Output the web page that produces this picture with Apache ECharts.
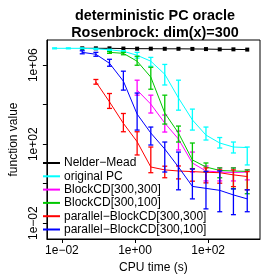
<!DOCTYPE html>
<html><head><meta charset="utf-8">
<script src="https://cdn.jsdelivr.net/npm/echarts@6/dist/echarts.min.js"></script>
<style>html,body{margin:0;padding:0;background:#fff}#c{width:280px;height:280px}</style>
</head><body><div id="c"></div>
<script>
// CPU time (s) for each evaluation step
const times = [0.0063, 0.015, 0.036, 0.085, 0.2, 0.48, 1.14, 2.7, 6.5, 15.4, 37, 87, 207, 490, 1170];

const names = ['Nelder\u2212Mead', 'original PC', 'BlockCD[300,300]', 'BlockCD[300,100]',
  'parallel\u2212BlockCD[300,300]', 'parallel\u2212BlockCD[300,100]'];
const colors = ['#000000', '#00FFFF', '#FF00FF', '#00C800', '#FF0000', '#0000FF'];

const nmMean = [null, null, 7.2e6, 7.2e6, 7.2e6, 7.0e6, 6.9e6, 6.9e6, 6.8e6, 6.8e6, 6.7e6, 6.6e6, 6.4e6, 6.4e6, 6.2e6];

const pcMean = [7.2e6, 7.2e6, 7.2e6, 6.8e6, 6.1e6, 5.1e6, 3.2e6, 1.6e6, 3.5e5, 2.2e4, 1.7e3, 290, 115, 72, 68];
const pcHi   = [7.6e6, 7.6e6, 7.6e6, 7.2e6, 6.5e6, 5.5e6, 4.5e6, 2.5e6, 1.1e6, 1.75e5, 6.0e3, 740, 218, 129, 72];
const pcLo   = [6.8e6, 6.8e6, 6.8e6, 6.4e6, 5.7e6, 4.8e6, 2.3e6, 8.9e5, 1.0e5, 5.3e3, 520, 163, 64, 36, 8.9];

const bcd300Mean = [null, null, null, null, null, null, 5.5e4, 1.07e4, 1.18e3, 183, 11.2, 4.4, 3.9, 3.7, 3.9];
const bcd300Hi   = [null, null, null, null, null, null, 1.75e5, 3.05e4, 3.0e3, 464, 40, 7.9, 6.3, 6.3, 5.0];
const bcd300Lo   = [null, null, null, null, null, null, 3.05e4, 3.8e3, 413, 51, 3.9, 1.38, 1.38, 1.38, 1.56];

const bcd100Mean = [null, null, null, null, 4.5e6, 4.0e6, 1.6e6, 2.5e5, 3.8e3, 368, 16, 7.0, 4.7, 4.4, 4.2];
const bcd100Hi   = [null, null, null, null, 4.9e6, 4.5e6, 2.85e6, 7.9e5, 3.05e4, 830, 115, 11.2, 6.3, 6.3, 5.0];
const bcd100Lo   = [null, null, null, null, 4.0e6, 3.4e6, 1.0e6, 6.1e4, 1.05e3, 129, 5.6, 3.9, 2.0, 0.55, 0.31];

const pbcd300Mean = [null, null, null, 1.44e5, 1.4e4, 1.14e3, 134, 7.0, 5.0, 4.4, 4.1, 3.8, 3.6, 2.8, 2.3];
const pbcd300Hi   = [null, null, null, 1.9e5, 3.7e4, 3.6e3, 428, 72, 7.7, 7.9, 5.8, 6.3, 5.0, 5.0, 4.1];
const pbcd300Lo   = [null, null, null, 1.1e5, 6.5e3, 428, 28.5, 3.6, 2.0, 1.75, 1.34, 1.1, 1.06, 0.71, 0.49];

const pbcd100Mean = [null, null, 4.5e6, 3.6e6, 1.26e6, 1.56e5, 3.35e3, 368, 57, 7.0, 0.73, 0.58, 0.46, 0.27, 0.17];
const pbcd100Hi   = [null, null, 5.4e6, 4.5e6, 2.0e6, 5.0e5, 3.9e4, 740, 129, 40, 5.6, 4.2, 4.4, 0.55, 0.49];
const pbcd100Lo   = [null, null, 3.8e6, 2.85e6, 8.9e5, 5.5e4, 520, 91, 3.9, 0.49, 0.17, 0.053, 0.038, 0.027, 0.038];

const xTicks = [0.01, 1, 100];
const yTicks = [0.01, 1, 100, 1e4, 1e6];
const yLabels = [0.01, 100, 1e6];

const FONT = '"Liberation Sans", Arial, Helvetica, sans-serif';

function fmtSci(v) {
  const e = Math.round(Math.log10(v));
  const s = e < 0 ? '\u2212' : '+';
  const a = Math.abs(e);
  return '1e' + s + (a < 10 ? '0' + a : '' + a);
}

const groups = [
  {mean: nmMean, hi: null, lo: null, square: true},
  {mean: pcMean, hi: pcHi, lo: pcLo},
  {mean: bcd300Mean, hi: bcd300Hi, lo: bcd300Lo},
  {mean: bcd100Mean, hi: bcd100Hi, lo: bcd100Lo},
  {mean: pbcd300Mean, hi: pbcd300Hi, lo: pbcd300Lo},
  {mean: pbcd100Mean, hi: pbcd100Hi, lo: pbcd100Lo}
];

const series = [];
groups.forEach((g, i) => {
  const pts = [];
  g.mean.forEach((v, k) => { if (v != null) pts.push([times[k], v]); });
  series.push({
    name: names[i], type: 'line', data: pts,
    showSymbol: !!g.square, symbol: 'rect', symbolSize: 4,
    itemStyle: {color: colors[i], borderWidth: 0},
    lineStyle: {color: colors[i], width: 1},
    animation: false, z: 2 + i * 2
  });
  if (g.hi) {
    const bars = [];
    g.mean.forEach((v, k) => { if (v != null) bars.push([times[k], g.lo[k], g.hi[k]]); });
    series.push({
      name: names[i] + ' bars', type: 'custom', data: bars,
      animation: false, z: 3 + i * 2,
      encode: {x: 0, y: [1, 2]},
      renderItem: function (params, api) {
        const x = api.value(0);
        const p1 = api.coord([x, api.value(1)]);
        const p2 = api.coord([x, api.value(2)]);
        const w = 2.5;
        const st = {stroke: colors[i], lineWidth: 1.3, fill: null};
        return {type: 'group', children: [
          {type: 'line', shape: {x1: p1[0], y1: p1[1], x2: p2[0], y2: p2[1]}, style: st},
          {type: 'line', shape: {x1: p1[0] - w, y1: p1[1], x2: p1[0] + w, y2: p1[1]}, style: st},
          {type: 'line', shape: {x1: p2[0] - w, y1: p2[1], x2: p2[0] + w, y2: p2[1]}, style: st}
        ]};
      }
    });
  }
});

const chart = echarts.init(document.getElementById('c'), null, {renderer: 'canvas'});
chart.setOption({
  animation: false,
  backgroundColor: '#fff',
  title: {
    text: 'deterministic PC oracle\nRosenbrock: dim(x)=300',
    left: 150, top: 3, textAlign: 'center',
    textStyle: {fontFamily: FONT, fontSize: 14.4, fontWeight: 'bold', color: '#000', lineHeight: 16.5}
  },
  grid: {left: 40, right: 20, top: 40, bottom: 41, show: true, borderColor: '#000', borderWidth: 1, backgroundColor: 'transparent'},
  legend: {
    data: names, orient: 'vertical', left: 43, top: 157, padding: 0,
    icon: 'rect', itemWidth: 17, itemHeight: 2, itemGap: 1.3,
    itemStyle: {borderWidth: 0, borderColor: 'transparent'},
    textStyle: {fontFamily: FONT, fontSize: 12, color: '#000', lineHeight: 12, padding: [0, 0, 0, -1]},
    selectedMode: false
  },
  xAxis: {
    type: 'log', logBase: 10, min: 0.00389, max: 2612,
    name: 'CPU time (s)', nameLocation: 'middle', nameGap: 21,
    nameTextStyle: {fontFamily: FONT, fontSize: 12, color: '#000'},
    axisLine: {show: true, lineStyle: {color: '#000', width: 1}},
    axisTick: {show: true, length: 4, customValues: xTicks, lineStyle: {color: '#000'}},
    axisLabel: {customValues: xTicks, fontFamily: FONT, fontSize: 12, color: '#000', margin: 6, formatter: v => fmtSci(v)},
    splitLine: {show: false}, minorTick: {show: false}
  },
  yAxis: {
    type: 'log', logBase: 10, min: 0.00158, max: 1.9e7,
    name: 'function value', nameLocation: 'middle', nameGap: 23, nameRotate: 90,
    nameTextStyle: {fontFamily: FONT, fontSize: 12, color: '#000'},
    axisLine: {show: true, lineStyle: {color: '#000', width: 1}},
    axisTick: {show: true, length: 4, customValues: yTicks, lineStyle: {color: '#000'}},
    axisLabel: {customValues: yLabels, rotate: 90, fontFamily: FONT, fontSize: 12, color: '#000', margin: 7, formatter: v => fmtSci(v)},
    splitLine: {show: false}, minorTick: {show: false}
  },
  series: series
});
</script>
</body></html>
